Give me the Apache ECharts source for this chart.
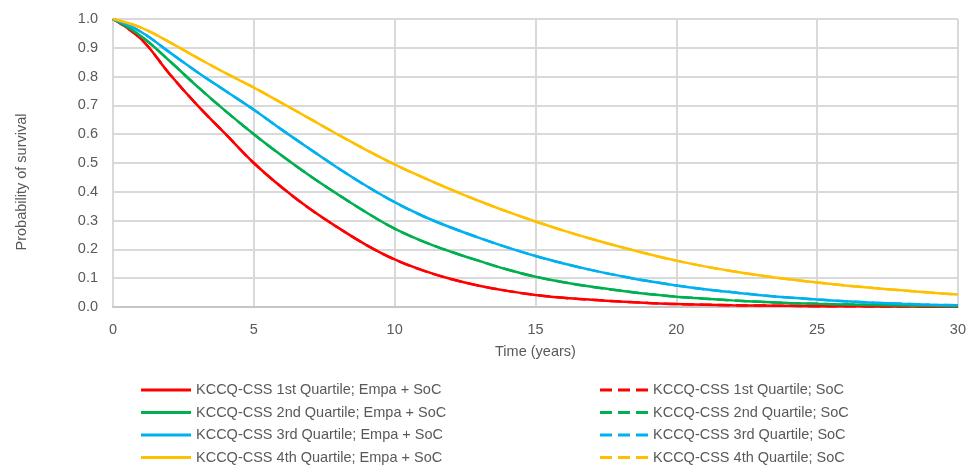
<!DOCTYPE html>
<html>
<head>
<meta charset="utf-8">
<script src="https://cdn.jsdelivr.net/npm/echarts@6/dist/echarts.min.js"></script>
<style>
html,body{margin:0;padding:0;background:#fff;}
#chart{width:969px;height:465px;}
</style>
</head>
<body>
<div id="chart"></div>
<script>
// Time points (years)
var years = [0,1,2,3,4,5,6,7,8,9,10,11,12,13,14,15,16,17,18,19,20,21,22,23,24,25,26,27,28,29,30];
// Survival probabilities
var q1Empa = [1.0,0.93,0.81,0.70,0.60,0.50,0.415,0.34,0.275,0.215,0.165,0.127,0.097,0.074,0.056,0.042,0.032,0.025,0.019,0.014,0.010,0.008,0.006,0.005,0.004,0.003,0.003,0.002,0.002,0.001,0.001];
var q2Empa = [1.0,0.94,0.855,0.765,0.68,0.60,0.525,0.455,0.39,0.328,0.272,0.228,0.192,0.16,0.13,0.105,0.086,0.07,0.057,0.045,0.036,0.029,0.023,0.018,0.014,0.011,0.009,0.007,0.005,0.004,0.003];
var q3Empa = [1.0,0.955,0.885,0.815,0.75,0.685,0.615,0.548,0.482,0.42,0.364,0.316,0.276,0.24,0.207,0.177,0.151,0.128,0.108,0.09,0.075,0.062,0.051,0.041,0.033,0.026,0.02,0.015,0.011,0.008,0.006];
var q4Empa = [1.0,0.97,0.92,0.865,0.812,0.762,0.708,0.653,0.598,0.545,0.495,0.45,0.408,0.368,0.331,0.297,0.265,0.236,0.209,0.184,0.161,0.141,0.124,0.109,0.096,0.085,0.075,0.066,0.058,0.05,0.043];
// SoC curves coincide with the Empa + SoC curves in the figure (hidden beneath them)
var q1SoC = q1Empa.slice();
var q2SoC = q2Empa.slice();
var q3SoC = q3Empa.slice();
var q4SoC = q4Empa.slice();

var namesEmpa = ['KCCQ-CSS 1st Quartile; Empa + SoC','KCCQ-CSS 2nd Quartile; Empa + SoC','KCCQ-CSS 3rd Quartile; Empa + SoC','KCCQ-CSS 4th Quartile; Empa + SoC'];
var namesSoC = ['KCCQ-CSS 1st Quartile; SoC','KCCQ-CSS 2nd Quartile; SoC','KCCQ-CSS 3rd Quartile; SoC','KCCQ-CSS 4th Quartile; SoC'];
var colors = ['#FF0000','#00B050','#00B0F0','#FFC000'];

function pairs(vals){ return years.map(function(t,i){ return [t, vals[i]]; }); }

var FONT = "'Liberation Sans', Arial, sans-serif";
var empaVals = [q1Empa,q2Empa,q3Empa,q4Empa];
var socVals = [q1SoC,q2SoC,q3SoC,q4SoC];
var series = [];
for (var i=0;i<4;i++){
  series.push({name:namesSoC[i], type:'line', data:pairs(socVals[i]), smooth:0.4, symbol:'none', showSymbol:false,
    lineStyle:{color:colors[i], width:2.5, type:[12,6]}, itemStyle:{color:colors[i]}, z:2});
}
for (var j=0;j<4;j++){
  series.push({name:namesEmpa[j], type:'line', data:pairs(empaVals[j]), smooth:0.4, symbol:'none', showSymbol:false,
    lineStyle:{color:colors[j], width:2.5}, itemStyle:{color:colors[j]}, z:3});
}

var SOLID_ICON = 'path://M0,0H50V3H0Z';
var DASH_ICON = 'path://M0,0H12V3H0Z M18,0H30V3H18Z M36,0H48V3H36Z';

function legendCfg(left, names, icon, w){
  return {
    orient:'vertical', left:left, top:377, height:120, width:360,
    itemWidth:w, itemHeight:3, itemGap:6.5, icon:icon,
    textStyle:{fontFamily:FONT, fontSize:14.5, color:'#595959', lineHeight:16},
    data:names
  };
}

var chart = echarts.init(document.getElementById('chart'));
chart.setOption({
  animation:false,
  backgroundColor:'#ffffff',
  grid:{left:113, right:8, top:19, bottom:158, containLabel:false},
  xAxis:{type:'value', min:0, max:30, interval:5,
    name:'Time (years)', nameLocation:'middle', nameGap:37,
    nameTextStyle:{fontFamily:FONT, fontSize:14.5, color:'#595959'},
    axisLine:{lineStyle:{color:'#c6c6c6', width:2}},
    axisTick:{show:false},
    axisLabel:{fontFamily:FONT, fontSize:14.5, color:'#595959', margin:15},
    splitLine:{show:true, lineStyle:{color:'#d9d9d9', width:2}}
  },
  yAxis:{type:'value', min:0, max:1, interval:0.1,
    axisLine:{show:true, lineStyle:{color:'#d9d9d9', width:2}},
    axisTick:{show:false},
    axisLabel:{fontFamily:FONT, fontSize:14.5, color:'#595959', margin:15,
      formatter:function(v){ return v.toFixed(1); }},
    splitLine:{show:true, lineStyle:{color:'#d9d9d9', width:2}}
  },
  legend:[
    legendCfg(136, namesEmpa, SOLID_ICON, 50),
    legendCfg(595, namesSoC, DASH_ICON, 48)
  ],
  graphic:[{type:'text', x:22, y:182, rotation:Math.PI/2,
    style:{text:'Probability of survival', fontFamily:FONT, fontSize:14.5, fill:'#595959',
      textAlign:'center', textVerticalAlign:'middle'}}],
  series:series
});
</script>
</body>
</html>
